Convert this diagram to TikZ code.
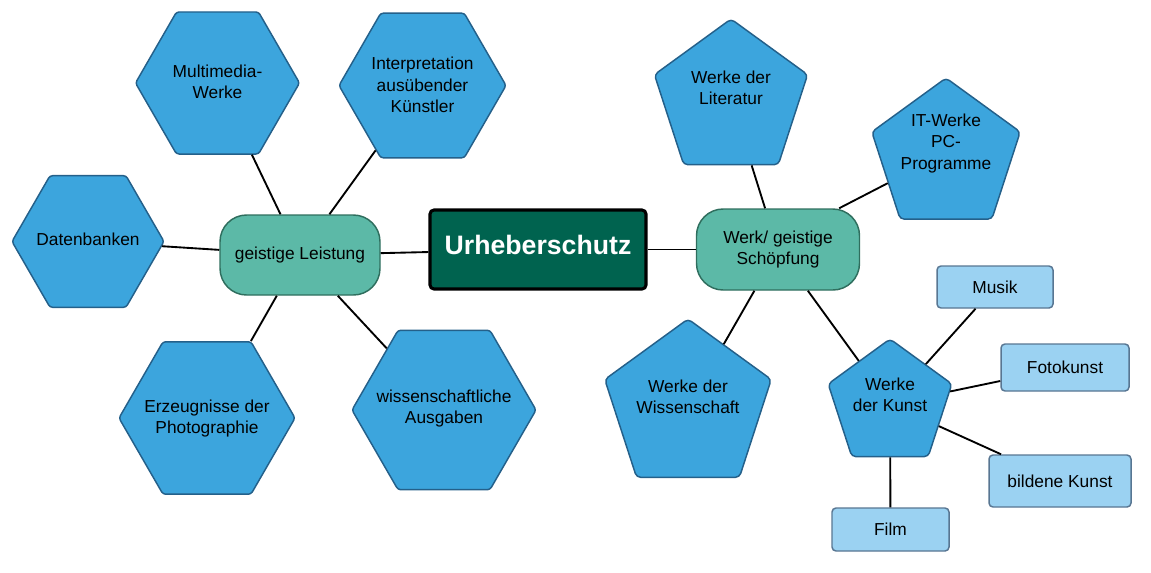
\documentclass[tikz,border=0pt]{standalone}
\usepackage{fontspec}
\setmainfont{Liberation Sans}
\usetikzlibrary{shapes.geometric}

\definecolor{hexblue}{RGB}{60,165,221}
\definecolor{hexline}{RGB}{36,96,138}
\definecolor{pillfill}{RGB}{92,185,167}
\definecolor{pillline}{RGB}{47,110,94}
\definecolor{boxfill}{RGB}{155,210,242}
\definecolor{boxline}{RGB}{88,118,146}
\definecolor{rootfill}{RGB}{0,99,79}

\tikzset{
  txt/.style={font=\fontsize{13}{16}\selectfont,align=center},
  hexnode/.style={regular polygon,regular polygon sides=6,draw=hexline,fill=hexblue,line width=1.1pt,rounded corners=2pt,inner sep=0pt},
  pentnode/.style={regular polygon,regular polygon sides=5,draw=hexline,fill=hexblue,line width=1.1pt,rounded corners=3pt,inner sep=0pt},
  shapetext/.style={txt,inner sep=0.75pt},
  pillnode/.style={txt,rectangle,draw=pillline,fill=pillfill,line width=1.1pt,rounded corners=20pt,inner sep=0pt},
  boxnode/.style={txt,rectangle,draw=boxline,fill=boxfill,line width=1.1pt,rounded corners=3pt,inner sep=0pt},
  conn/.style={draw=black,line width=1.4pt}
}

\begin{document}
\begin{tikzpicture}[x=0.75pt,y=0.75pt,yscale=-1,xscale=1]
\useasboundingbox (0,0) rectangle (1151,572);

% Root
\draw (538,249.5) node [rectangle,draw=black,fill=rootfill,line width=2.3pt,rounded corners=3pt,minimum width=162pt,minimum height=59.25pt,inner sep=0pt,text height=14.7pt,text depth=6.9pt,text=white,font=\fontsize{20}{24}\selectfont\bfseries] (root) {Urheberschutz};
% Pill Node
\draw (300,255) node [pillnode,minimum width=120pt,minimum height=60pt] (leist) {geistige Leistung};
% Pill Node
\draw (778,249.5) node [pillnode,minimum width=122.25pt,minimum height=60.75pt] (schoepf) {Werk/ geistige\\Schöpfung};

% Hexagon
\draw (217.5,83) node [hexnode,minimum size=123pt] (multi) {};
\draw (217.5,82) node [shapetext] (multi-t) {Multimedia-\\Werke};
% Hexagon
\draw (422.5,85.5) node [hexnode,minimum size=125.25pt] (interp) {};
\draw (422.5,85) node [shapetext] (interp-t) {Interpretation\\ausübender\\Künstler};
% Hexagon
\draw (88,241.5) node [hexnode,minimum size=114pt] (daten) {};
\draw (88,239) node [shapetext] (daten-t) {Datenbanken};
% Hexagon
\draw (207,418) node [hexnode,minimum size=132pt] (photo) {};
\draw (207,418.5) node [shapetext] (photo-t) {Erzeugnisse der\\Photographie};
% Hexagon
\draw (444,410) node [hexnode,minimum size=138pt] (ausg) {};
\draw (444,408.5) node [shapetext] (ausg-t) {wissenschaftliche\\Ausgaben};

% Pentagon
\draw (731,99.5) node [pentnode,minimum size=120.75pt] (lit) {};
\draw (731,88) node [shapetext] (lit-t) {Werke der\\Literatur};
% Pentagon
\draw (946,156) node [pentnode,minimum size=117pt] (it) {};
\draw (946,143.5) node [shapetext] (it-t) {IT-Werke\\PC-\\Programme};
% Pentagon
\draw (688,406.5) node [pentnode,minimum size=131.25pt] (wiss) {};
\draw (688,397) node [shapetext] (wiss-t) {Werke der\\Wissenschaft};
% Pentagon
\draw (890,404) node [pentnode,minimum size=97.5pt] (kunst) {};
\draw (890,394.5) node [shapetext] (kunst-t) {Werke\\der Kunst};

% Box Node
\draw (995,287) node [boxnode,minimum width=87pt,minimum height=31.5pt] (musik) {Musik};
% Box Node
\draw (1065,367.5) node [boxnode,minimum width=96pt,minimum height=35.25pt] (foto) {Fotokunst};
% Box Node
\draw (1060,481) node [boxnode,minimum width=106.5pt,minimum height=39pt] (bild) {bildene Kunst};
% Box Node
\draw (890.5,529.5) node [boxnode,minimum width=87.75pt,minimum height=32.25pt] (film) {Film};

% Connection
\draw [conn] (leist) -- (root);
\draw [conn] (root) -- (schoepf);
% Connection
\draw [conn] (leist) -- (multi);
\draw [conn] (leist) -- (interp);
\draw [conn] (leist) -- (daten);
\draw [conn] (leist) -- (photo);
\draw [conn] (leist) -- (ausg);
% Connection
\draw [conn] (schoepf) -- (lit);
\draw [conn] (schoepf.34) -- (it.205);
\draw [conn] (schoepf) -- (wiss);
\draw [conn] (schoepf) -- (kunst);
% Connection
\draw [conn] (kunst) -- (musik);
\draw [conn] (kunst) -- (foto);
\draw [conn] (kunst) -- (bild);
\draw [conn] (kunst) -- (film);

\end{tikzpicture}
\end{document}
